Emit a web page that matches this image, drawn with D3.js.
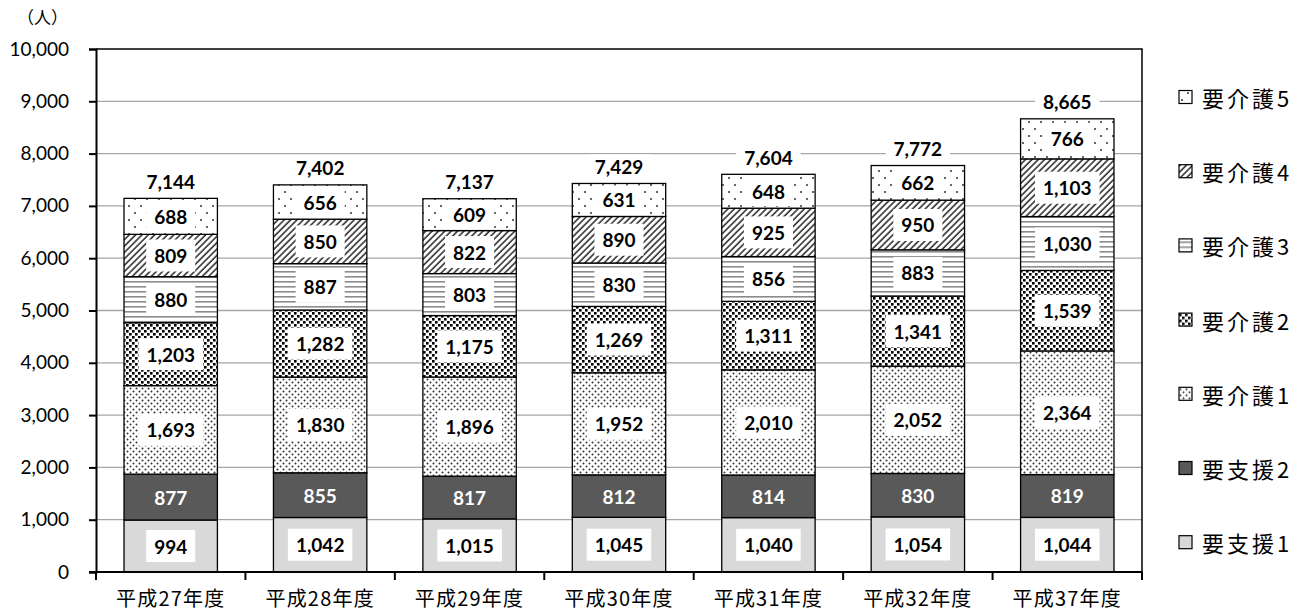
<!DOCTYPE html>
<html>
<head>
<meta charset="utf-8">
<script src="https://cdn.jsdelivr.net/npm/d3@7"></script>
<style>
  html, body { margin: 0; padding: 0; background: #fff; }
  svg { display: block; }
</style>
</head>
<body>
<svg id="chart" width="1311" height="616"></svg>
<script>
// Fiscal years shown on the x axis
const years = ["平成27年度", "平成28年度", "平成29年度", "平成30年度", "平成31年度", "平成32年度", "平成37年度"];

// Care-level categories, stacked bottom to top
const levels = ["要支援1", "要支援2", "要介護1", "要介護2", "要介護3", "要介護4", "要介護5"];

// Number of people per care level, one value per fiscal year
const shien1  = [994, 1042, 1015, 1045, 1040, 1054, 1044];
const shien2  = [877, 855, 817, 812, 814, 830, 819];
const kaigo1  = [1693, 1830, 1896, 1952, 2010, 2052, 2364];
const kaigo2  = [1203, 1282, 1175, 1269, 1311, 1341, 1539];
const kaigo3  = [880, 887, 803, 830, 856, 883, 1030];
const kaigo4  = [809, 850, 822, 890, 925, 950, 1103];
const kaigo5  = [688, 656, 609, 631, 648, 662, 766];

// Totals printed above each bar
const totals = [7144, 7402, 7137, 7429, 7604, 7772, 8665];

// Y axis ticks
const yTicks = [0, 1000, 2000, 3000, 4000, 5000, 6000, 7000, 8000, 9000, 10000];

const seriesValues = [shien1, shien2, kaigo1, kaigo2, kaigo3, kaigo4, kaigo5];

const rows = years.map((y, i) => {
  const r = { year: y };
  levels.forEach((lv, k) => { r[lv] = seriesValues[k][i]; });
  return r;
});

const svg = d3.select("#chart");
const plot = { left: 96, right: 1142, top: 49, bottom: 572 };

const x = d3.scaleBand().domain(years).range([plot.left, plot.right])
  .paddingInner(0.375).paddingOuter(0.1875);
const y = d3.scaleLinear().domain([0, 10000]).range([plot.bottom, plot.top]);

const numFont = "Lato, 'Liberation Sans', sans-serif";
const jpFont = "'Noto Sans CJK JP', 'Noto Sans', sans-serif";

// ---- Fill patterns for each care level ----
const defs = svg.append("defs");

// 要介護1: fine diagonal dot grid
const p1 = defs.append("pattern").attr("id", "pat-k1").attr("patternUnits", "userSpaceOnUse")
  .attr("width", 6).attr("height", 6);
p1.append("rect").attr("width", 6).attr("height", 6).attr("fill", "#fff");
p1.append("circle").attr("cx", 1.5).attr("cy", 1.5).attr("r", 1).attr("fill", "#333");
p1.append("circle").attr("cx", 4.5).attr("cy", 4.5).attr("r", 1).attr("fill", "#333");

// 要介護2: heavy square dots
const p2 = defs.append("pattern").attr("id", "pat-k2").attr("patternUnits", "userSpaceOnUse")
  .attr("width", 6).attr("height", 6);
p2.append("rect").attr("width", 6).attr("height", 6).attr("fill", "#fff");
p2.append("rect").attr("x", 0).attr("y", 0).attr("width", 2.6).attr("height", 2.6).attr("fill", "#000");
p2.append("rect").attr("x", 3).attr("y", 3).attr("width", 2.6).attr("height", 2.6).attr("fill", "#000");

// 要介護3: horizontal gray stripes
const p3 = defs.append("pattern").attr("id", "pat-k3").attr("patternUnits", "userSpaceOnUse")
  .attr("width", 8).attr("height", 5);
p3.append("rect").attr("width", 8).attr("height", 5).attr("fill", "#fff");
p3.append("rect").attr("x", 0).attr("y", 1).attr("width", 8).attr("height", 1.6).attr("fill", "#8c8c8c");

// 要介護4: diagonal hatching
const p4 = defs.append("pattern").attr("id", "pat-k4").attr("patternUnits", "userSpaceOnUse")
  .attr("width", 4.5).attr("height", 4.5).attr("patternTransform", "rotate(45)");
p4.append("rect").attr("width", 4.5).attr("height", 4.5).attr("fill", "#fff");
p4.append("line").attr("x1", 1).attr("y1", 0).attr("x2", 1).attr("y2", 4.5)
  .attr("stroke", "#333").attr("stroke-width", 1.6);

// 要介護5: sparse dots
const p5 = defs.append("pattern").attr("id", "pat-k5").attr("patternUnits", "userSpaceOnUse")
  .attr("width", 12).attr("height", 14);
p5.append("rect").attr("width", 12).attr("height", 14).attr("fill", "#fff");
p5.append("circle").attr("cx", 3).attr("cy", 3).attr("r", 1).attr("fill", "#333");
p5.append("circle").attr("cx", 9).attr("cy", 10).attr("r", 1).attr("fill", "#333");

const fills = {
  "要支援1": "#d9d9d9",
  "要支援2": "#595959",
  "要介護1": "url(#pat-k1)",
  "要介護2": "url(#pat-k2)",
  "要介護3": "url(#pat-k3)",
  "要介護4": "url(#pat-k4)",
  "要介護5": "url(#pat-k5)"
};

// ---- Gridlines ----
svg.append("g").selectAll("line").data(yTicks.filter(t => t > 0 && t < 10000)).join("line")
  .attr("x1", plot.left).attr("x2", plot.right)
  .attr("y1", d => y(d)).attr("y2", d => y(d))
  .attr("stroke", "#a6a6a6").attr("stroke-width", 1.3);

// ---- Stacked bars ----
const stack = d3.stack().keys(levels)(rows);

const layers = svg.append("g").selectAll("g").data(stack).join("g")
  .attr("fill", d => fills[d.key]);

layers.selectAll("rect").data(d => d).join("rect")
  .attr("x", d => x(d.data.year))
  .attr("width", x.bandwidth())
  .attr("y", d => y(d[1]))
  .attr("height", d => y(d[0]) - y(d[1]))
  .attr("stroke", "#000").attr("stroke-width", 1.3);

// ---- Segment value labels ----
const fmt = d3.format(",");
const labelG = svg.append("g");
stack.forEach(layer => {
  layer.forEach(d => {
    const v = d.data[layer.key];
    const cx = x(d.data.year) + x.bandwidth() / 2;
    const cy = (y(d[0]) + y(d[1])) / 2;
    const g = labelG.append("g");
    const t = g.append("text")
      .attr("x", cx).attr("y", cy)
      .attr("text-anchor", "middle").attr("dominant-baseline", "central")
      .attr("font-family", numFont).attr("font-weight", "bold").attr("font-size", 19)
      .attr("fill", layer.key === "要支援2" ? "#fff" : "#000")
      .text(fmt(v));
    if (layer.key !== "要支援2") {
      const w = t.node().getComputedTextLength();
      const h = Math.min(32, y(d[0]) - y(d[1]) - 4);
      g.insert("rect", "text")
        .attr("x", cx - w / 2 - 8).attr("y", cy - h / 2)
        .attr("width", w + 16).attr("height", h)
        .attr("fill", "#fff");
    }
  });
});

// ---- Totals above bars ----
const totalG = svg.append("g");
years.forEach((yr, i) => {
  const cx = x(yr) + x.bandwidth() / 2;
  const cy = y(totals[i]) - 17;
  const g = totalG.append("g");
  const t = g.append("text")
    .attr("x", cx).attr("y", cy)
    .attr("text-anchor", "middle").attr("dominant-baseline", "central")
    .attr("font-family", numFont).attr("font-weight", "bold").attr("font-size", 19)
    .attr("fill", "#000")
    .text(fmt(totals[i]));
  const w = t.node().getComputedTextLength();
  g.insert("rect", "text")
    .attr("x", cx - w / 2 - 8).attr("y", cy - 12)
    .attr("width", w + 16).attr("height", 24)
    .attr("fill", "#fff");
});

// ---- Plot frame (top and right) ----
svg.append("path")
  .attr("d", `M${plot.left},${plot.top}H${plot.right}V${plot.bottom}`)
  .attr("fill", "none").attr("stroke", "#000").attr("stroke-width", 1.5);

// ---- Y axis ----
const yAxis = svg.append("g")
  .attr("transform", `translate(${plot.left},0)`)
  .call(d3.axisLeft(y).tickValues(yTicks).tickFormat(fmt).tickSize(7).tickPadding(20));
yAxis.select(".domain").attr("stroke", "#000").attr("stroke-width", 2);
yAxis.selectAll(".tick line").attr("stroke", "#000").attr("stroke-width", 2);
yAxis.selectAll("text").attr("font-family", numFont).attr("font-size", 19).attr("fill", "#000");

// ---- X axis ----
const xAxis = svg.append("g");
xAxis.append("line")
  .attr("x1", plot.left - 7).attr("x2", plot.right)
  .attr("y1", plot.bottom).attr("y2", plot.bottom)
  .attr("stroke", "#000").attr("stroke-width", 2);
const step = x.step();
xAxis.selectAll("line.tick").data(d3.range(years.length + 1)).join("line")
  .attr("class", "tick")
  .attr("x1", i => plot.left + i * step).attr("x2", i => plot.left + i * step)
  .attr("y1", plot.bottom).attr("y2", plot.bottom + 8)
  .attr("stroke", "#000").attr("stroke-width", 2);
xAxis.selectAll("text").data(years).join("text")
  .attr("x", d => x(d) + x.bandwidth() / 2)
  .attr("y", 606)
  .attr("text-anchor", "middle")
  .attr("font-family", jpFont).attr("font-size", 20).attr("letter-spacing", 1.2)
  .attr("fill", "#000")
  .text(d => d);

// ---- Unit label ----
svg.append("text")
  .attr("x", 17).attr("y", 24)
  .attr("font-family", jpFont).attr("font-size", 17)
  .attr("fill", "#000")
  .text("（人）");

// ---- Legend (top to bottom: 要介護5 … 要支援1) ----
const legendOrder = levels.slice().reverse();
const legend = svg.append("g").selectAll("g").data(legendOrder).join("g")
  .attr("transform", (d, i) => `translate(1179,${97 + i * 74.2})`);
legend.append("rect")
  .attr("x", 0).attr("y", -6.5).attr("width", 13).attr("height", 13)
  .attr("fill", d => fills[d]).attr("stroke", "#000").attr("stroke-width", 1.2);
legend.append("text")
  .attr("x", 23).attr("y", 0)
  .attr("dominant-baseline", "central")
  .attr("font-family", jpFont).attr("font-size", 22).attr("letter-spacing", 3)
  .attr("fill", "#000")
  .text(d => d);
</script>
</body>
</html>
